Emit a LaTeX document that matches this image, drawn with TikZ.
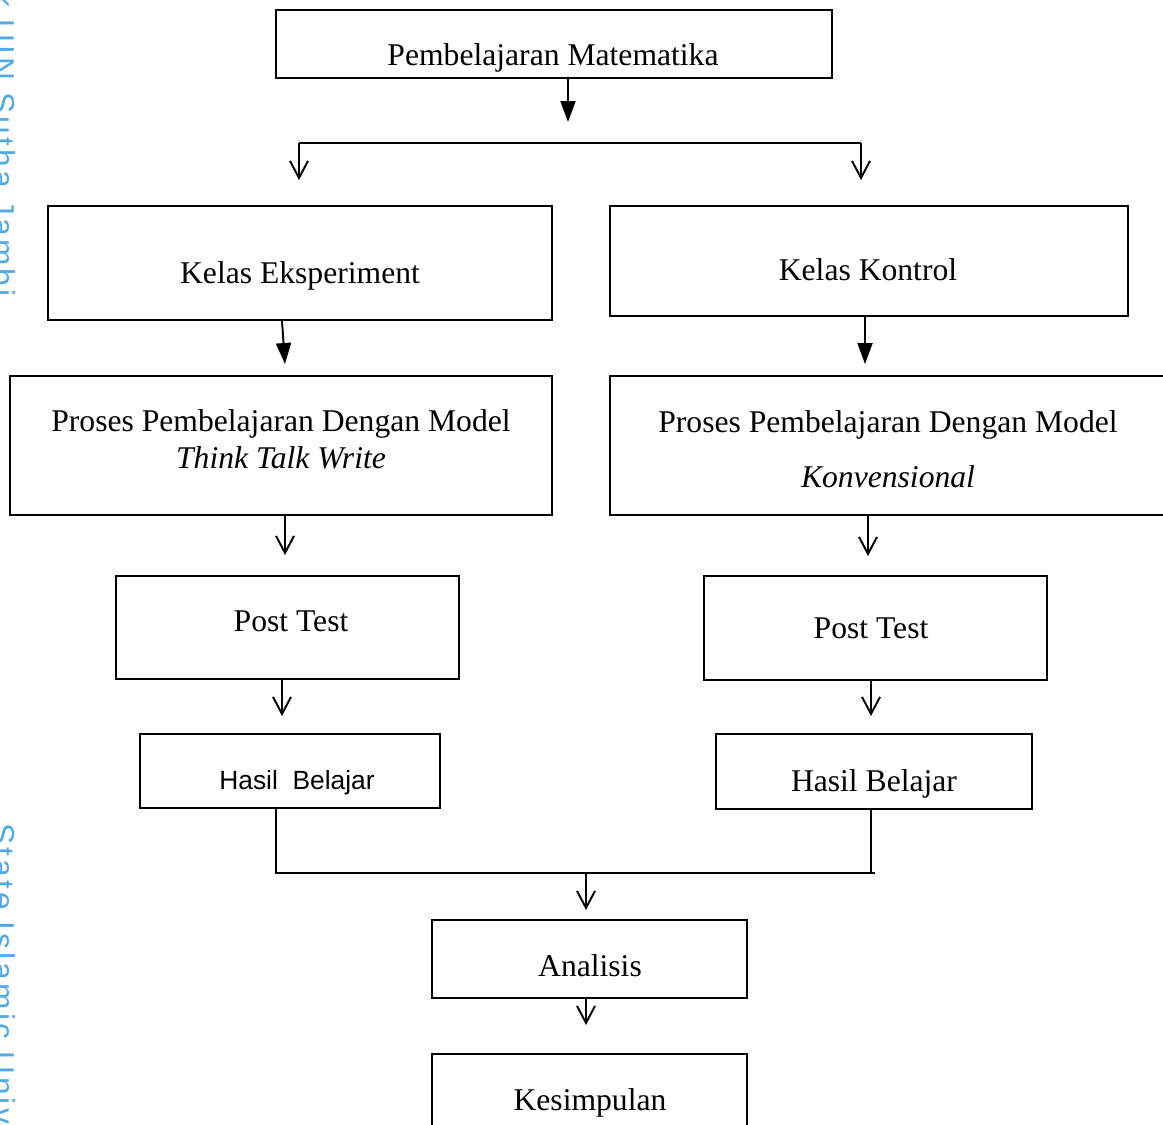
\documentclass[tikz,border=0pt]{standalone}
\usepackage{fontspec}
\setmainfont{Liberation Serif}
\setsansfont{Liberation Sans}
\newfontfamily\wmfont[LetterSpace=10]{Liberation Sans}
\usetikzlibrary{arrows.meta,fit}
\definecolor{wmblue}{RGB}{80,170,230}

\begin{document}
\begin{tikzpicture}[x=0.02cm,y=-0.02cm,
    kotak/.style={draw,line width=1.1pt,inner sep=0pt},
    teks/.style={anchor=base,inner sep=0pt,font=\fontsize{18}{21}\selectfont},
    tegas/.style={line width=1.1pt,-{Triangle[length=0.42cm,width=0.3cm]}},
    terbuka/.style={line width=1.1pt,-{Straight Barb[length=0.34cm,width=0.36cm]}},
    wm/.style={text=wmblue,inner sep=0pt,rotate=-90,font=\wmfont\fontsize{18}{21}\selectfont}]
  \useasboundingbox (0,0) rectangle (1163,1125);

  % watermark at the left edge
  \node[wm,anchor=base east] (wm1) at (-8,297) {Hak cipta milik UIN Sutha Jambi};
  \node[wm,anchor=base west] (wm2) at (-8,823) {State Islamic University};

  % boxes
  \node[kotak,fit={(276,10) (832,78)}] (mat) {};
  \node[kotak,fit={(48,206) (552,320)}] (eks) {};
  \node[kotak,fit={(610,206) (1128,316)}] (kon) {};
  \node[kotak,fit={(10,376) (552,515)}] (prosL) {};
  \node[kotak,fit={(610,376) (1180,515)}] (prosR) {};
  \node[kotak,fit={(116,576) (459,679)}] (postL) {};
  \node[kotak,fit={(704,576) (1047,680)}] (postR) {};
  \node[kotak,fit={(140,734) (440,808)}] (hasL) {};
  \node[kotak,fit={(716,734) (1032,809)}] (hasR) {};
  \node[kotak,fit={(432,920) (747,998)}] (ana) {};
  \node[kotak,fit={(432,1054) (747,1140)}] (kes) {};

  % texts
  \node[teks] (matT) at (553,66) {Pembelajaran Matematika};
  \node[teks] (eksT) at (300,283) {Kelas Eksperiment};
  \node[teks] (konT) at (868,280) {Kelas Kontrol};
  \node[teks] (prosL1) at (281,431) {Proses Pembelajaran Dengan Model};
  \node[teks] (prosL2) at (281,468) {\itshape Think Talk Write};
  \node[teks] (prosR1) at (888,432) {Proses Pembelajaran Dengan Model};
  \node[teks] (prosR2) at (888,487) {\itshape Konvensional};
  \node[teks] (postLT) at (291,631) {Post Test};
  \node[teks] (postRT) at (871,638) {Post Test};
  \node[teks,font=\sffamily\fontsize{15}{18}\selectfont] (hasLT) at (297,789) {Hasil\ \ Belajar};
  \node[teks] (hasRT) at (874,791) {Hasil Belajar};
  \node[teks] (anaT) at (590,976) {Analisis};
  \node[teks] (kesT) at (590,1110) {Kesimpulan};

  % free ends of the connectors
  \coordinate (a1) at (568,122);
  \coordinate (bL) at (299,143);
  \coordinate (bR) at (861,143);
  \coordinate (bL2) at (299,180);
  \coordinate (bR2) at (861,180);
  \coordinate (a2) at (285,364);
  \coordinate (a3) at (865,364);
  \coordinate (a4) at (285,555);
  \coordinate (a5) at (868,556);
  \coordinate (a6) at (282,716);
  \coordinate (a7) at (871,716);
  \coordinate (jL) at (276,873);
  \coordinate (jR) at (875,873);
  \coordinate (jM) at (586,873);
  \coordinate (a8) at (586,910);
  \coordinate (a9) at (586,1025);

  \begin{scope}
    \draw[tegas] (mat.south -| a1) -- (a1);
    \draw[line width=1.1pt] (bL) -- (bR);
    \draw[terbuka] (bL) -- (bL2);
    \draw[terbuka] (bR) -- (bR2);
    \draw[tegas] (eks.south -| 282,0) -- (a2);
    \draw[tegas] (kon.south -| a3) -- (a3);
    \draw[terbuka] (prosL.south -| a4) -- (a4);
    \draw[terbuka] (prosR.south -| a5) -- (a5);
    \draw[terbuka] (postL.south -| a6) -- (a6);
    \draw[terbuka] (postR.south -| a7) -- (a7);
    \draw[line width=1.1pt] (hasL.south -| jL) -- (jL) -- (jR);
    \draw[line width=0.9pt] (hasR.south -| 871,0) -- (871,873);
    \draw[terbuka] (jM) -- (a8);
    \draw[terbuka] (ana.south -| a9) -- (a9);
  \end{scope}
\end{tikzpicture}
\end{document}
